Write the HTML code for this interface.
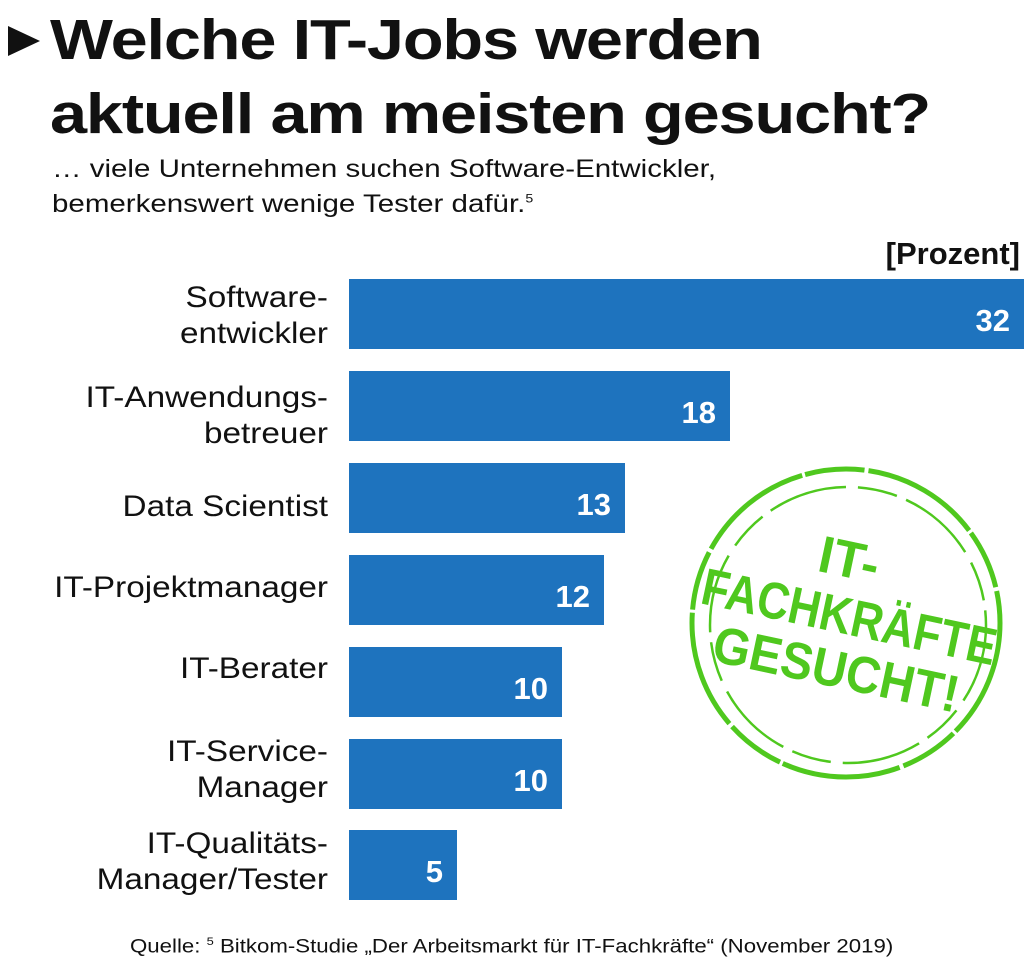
<!DOCTYPE html>
<html><head><meta charset="utf-8"><style>
body{margin:0;width:1024px;height:973px;background:#fff;position:relative;overflow:hidden;font-family:"Liberation Sans",sans-serif;color:#111}
.t{position:absolute;left:50px;font-weight:bold;font-size:57px;letter-spacing:-1px;line-height:1;transform:scaleX(1.17);transform-origin:left;white-space:nowrap}
.s{position:absolute;left:52px;font-size:25px;line-height:1;transform:scaleX(1.18);transform-origin:left;white-space:nowrap}
.bar{position:absolute;left:349px;height:70px;background:#1e73be;color:#fff;font-weight:bold;font-size:31px;text-align:right;box-sizing:border-box;padding-right:14px;line-height:84px}
.lab{position:absolute;right:696px;width:330px;text-align:right;font-size:30px;line-height:36px;transform:scaleX(1.11);transform-origin:right;white-space:nowrap}
</style></head><body>
<svg style="position:absolute;left:8px;top:24px" width="34" height="34"><polygon points="0,2 0,32 32,17" fill="#111"/></svg>
<div class="t" style="top:12px">Welche IT-Jobs werden</div>
<div class="t" style="top:86px">aktuell am meisten gesucht?</div>
<div class="s" style="top:157px">… viele Unternehmen suchen Software-Entwickler,</div>
<div class="s" style="top:192px">bemerkenswert wenige Tester dafür.<sup style="font-size:12px">5</sup></div>
<div style="position:absolute;right:4px;top:236px;font-weight:bold;font-size:31px">[Prozent]</div>
<div class="bar" style="top:279px;width:675px">32</div>
<div class="bar" style="top:371px;width:381px">18</div>
<div class="bar" style="top:463px;width:276px">13</div>
<div class="bar" style="top:555px;width:255px">12</div>
<div class="bar" style="top:647px;width:213px">10</div>
<div class="bar" style="top:739px;width:213px">10</div>
<div class="bar" style="top:830px;width:108px">5</div>
<div class="lab" style="top:280px">Software-<br>entwickler</div>
<div class="lab" style="top:380px">IT-Anwendungs-<br>betreuer</div>
<div class="lab" style="top:489px">Data Scientist</div>
<div class="lab" style="top:570px">IT-Projektmanager</div>
<div class="lab" style="top:651px">IT-Berater</div>
<div class="lab" style="top:734px">IT-Service-<br>Manager</div>
<div class="lab" style="top:826px">IT-Qualitäts-<br>Manager/Tester</div>
<svg style="position:absolute;left:660px;top:460px" width="364" height="330">
<circle cx="186" cy="163" r="154" fill="none" stroke="#4fc81e" stroke-width="5" stroke-dasharray="120 3 60 4"/>
<circle cx="188" cy="165" r="138" fill="none" stroke="#4fc81e" stroke-width="2.5" stroke-dasharray="80 12 40 10"/>
<g transform="rotate(12 186 163)" fill="#4fc81e" font-weight="bold" font-family="Liberation Sans,sans-serif" text-anchor="middle" font-size="52">
<text x="176" y="118">IT-</text>
<text x="188" y="174" textLength="300" lengthAdjust="spacingAndGlyphs">FACHKRÄFTE</text>
<text x="186" y="228" textLength="250" lengthAdjust="spacingAndGlyphs">GESUCHT!</text>
</g></svg>
<div style="position:absolute;left:130px;top:936px;font-size:19px;transform:scaleX(1.17);transform-origin:left;white-space:nowrap">Quelle: <sup style="font-size:11px">5</sup> Bitkom-Studie „Der Arbeitsmarkt für IT-Fachkräfte“ (November 2019)</div>
</body></html>
